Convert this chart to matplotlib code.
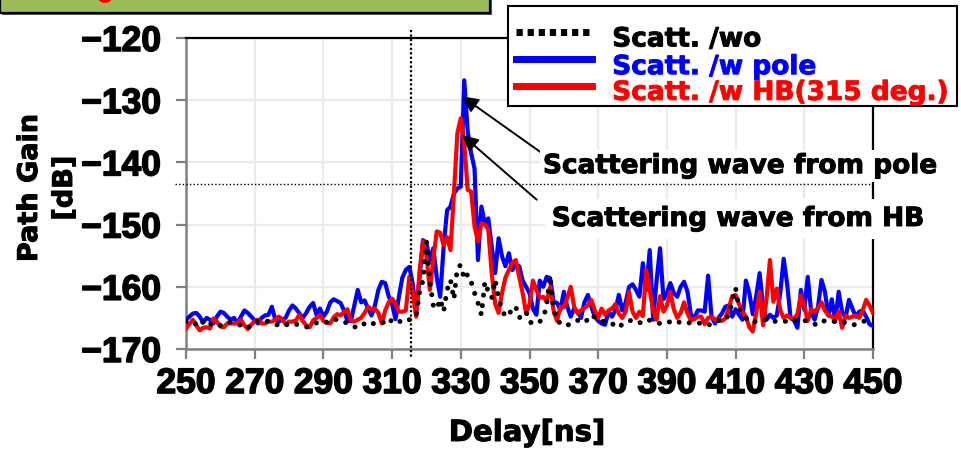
import matplotlib
matplotlib.use("Agg")
import matplotlib.pyplot as plt
import matplotlib.patheffects as pe
from matplotlib.patches import Rectangle, Ellipse
from matplotlib.lines import Line2D

# ---------------- data ----------------
delay_ns = list(range(250, 451))

gain_wo = [
    -165.6, -165.4, -165.8, -166.0, -166.4, -165.6, -165.3, -165.9, -166.3, -166.4,
    -166.2, -165.8, -165.6, -165.7, -165.9, -166.0, -166.2, -166.5, -166.7, -165.9,
    -165.6, -165.5, -165.7, -165.6, -165.5, -165.7, -165.9, -166.3, -166.4, -166.2,
    -165.9, -165.8, -166.0, -166.2, -166.4, -166.5, -166.2, -165.9, -165.8, -165.6,
    -165.5, -165.7, -165.8, -165.4, -165.2, -165.5, -165.6, -165.9, -166.2, -166.5,
    -166.3, -165.8, -166.0, -166.2, -165.8, -166.0, -166.1, -165.8, -165.6, -166.0,
    -165.2, -165.2, -165.6, -165.5, -165.7, -165.3, -165.0, -164.8, -160.8, -159.0,
    -152.7, -159.2, -163.0, -163.6, -162.0, -164.0, -160.5, -158.9, -162.0, -156.9,
    -156.5, -158.8, -158.0, -159.2, -161.0, -162.6, -164.5, -159.2, -160.8, -161.8,
    -158.9, -161.8, -163.7, -164.8, -164.6, -163.3, -163.2, -165.0, -164.5, -164.0,
    -165.7, -165.8, -166.0, -165.6, -165.0, -163.0, -158.3, -163.5, -165.5, -165.8,
    -165.7, -166.2, -165.9, -165.5, -165.4, -165.6, -165.8, -165.2, -164.5, -164.9,
    -165.3, -165.6, -165.5, -165.7, -165.9, -166.3, -166.6, -166.0, -165.6, -165.5,
    -165.3, -165.5, -165.8, -165.6, -165.2, -165.4, -165.6, -165.8, -165.9, -165.7,
    -165.5, -165.7, -166.0, -165.8, -165.6, -165.5, -165.7, -165.9, -166.0, -165.9,
    -165.8, -166.0, -166.2, -165.9, -165.6, -165.4, -165.6, -165.3, -164.5, -162.5,
    -160.2, -163.5, -164.3, -165.0, -165.6, -165.8, -165.5, -165.3, -165.2, -165.4,
    -165.3, -165.5, -165.6, -165.4, -165.5, -165.6, -165.8, -165.5, -165.3, -165.2,
    -165.4, -165.6, -165.8, -166.0, -166.2, -165.8, -165.4, -165.3, -165.5, -165.6,
    -165.5, -165.6, -165.8, -165.9, -166.2, -166.0, -165.7, -165.5, -165.6, -165.8,
    -165.9,
]

gain_pole = [
    -165.3, -164.8, -164.3, -164.2, -164.8, -165.7, -165.0, -165.3, -165.9, -164.8,
    -164.0, -164.2, -164.8, -165.3, -165.0, -165.9, -164.8, -163.8, -164.2, -164.8,
    -165.4, -165.9, -165.0, -164.6, -164.5, -163.2, -165.3, -165.6, -165.3, -165.0,
    -163.8, -163.0, -163.5, -164.3, -165.0, -164.2, -163.2, -162.6, -164.5, -163.5,
    -164.8, -164.0, -162.5, -162.0, -162.3, -162.6, -163.8, -165.5, -165.5, -163.0,
    -160.5, -162.5, -162.2, -163.5, -164.6, -163.0, -160.5, -159.2, -159.4, -161.5,
    -162.8, -165.2, -161.5, -158.5, -157.3, -156.8, -159.5, -164.3, -158.5, -152.5,
    -153.0, -155.7, -153.8, -158.5, -161.6, -153.6, -147.7, -147.1, -145.0, -144.2,
    -143.9, -126.8, -135.0, -138.5, -141.0, -155.7, -147.1, -149.8, -149.0, -153.5,
    -157.8, -152.2, -155.1, -156.7, -154.6, -157.3, -156.5, -156.7, -159.0, -160.0,
    -161.0, -163.5, -164.5, -159.0, -160.0, -158.4, -158.6, -162.4, -162.6, -163.7,
    -160.8, -163.2, -164.8, -163.5, -164.0, -165.0, -162.5, -161.3, -163.2, -164.8,
    -165.5, -165.9, -166.1, -164.0, -164.8, -163.8, -161.3, -163.8, -162.5, -160.0,
    -159.6, -160.5, -161.6, -156.2, -160.5, -154.1, -165.3, -159.0, -153.8, -162.0,
    -161.0, -159.4, -161.0, -161.6, -160.0, -159.2, -160.8, -164.5, -165.0, -163.8,
    -163.8, -164.0, -158.2, -164.8, -165.9, -165.0, -164.3, -163.2, -163.0, -164.8,
    -163.6, -164.5, -165.3, -159.0, -161.0, -164.4, -161.5, -157.8, -163.2, -165.3,
    -164.5, -165.0, -164.6, -161.0, -155.5, -159.5, -165.0, -165.4, -166.6, -160.5,
    -163.7, -158.4, -164.0, -165.3, -163.2, -158.9, -160.8, -164.6, -162.0, -165.6,
    -160.8, -164.0, -165.0, -162.1, -163.5, -164.8, -164.0, -163.8, -164.8, -166.0,
    -166.3,
]

gain_hb = [
    -166.7, -166.0, -165.3, -166.2, -167.0, -166.6, -166.5, -166.7, -165.1, -165.6,
    -166.4, -166.5, -165.9, -165.9, -165.9, -165.8, -165.3, -166.2, -166.8, -166.1,
    -165.5, -165.3, -165.9, -165.9, -165.6, -165.6, -165.3, -164.8, -165.2, -166.0,
    -165.6, -165.6, -165.4, -164.5, -165.5, -166.2, -166.5, -165.4, -165.0, -164.5,
    -165.5, -165.8, -165.9, -164.9, -164.4, -164.6, -164.0, -163.6, -165.4, -165.6,
    -165.3, -165.0, -164.2, -163.2, -163.6, -163.5, -164.2, -165.9, -163.8, -162.5,
    -161.9, -162.7, -164.0, -164.0, -163.8, -158.4, -161.0, -164.8, -157.5, -152.7,
    -155.0, -160.5, -155.5, -151.1, -151.3, -153.3, -152.0, -154.1, -145.0, -135.3,
    -132.9, -136.9, -144.4, -144.7, -150.3, -152.7, -149.8, -150.0, -150.8, -157.8,
    -162.7, -164.2, -161.0, -158.5, -157.3, -156.2, -155.7, -158.4, -161.0, -164.2,
    -162.8, -159.0, -160.5, -161.8, -161.6, -162.4, -160.0, -163.8, -165.5, -163.2,
    -163.3, -161.8, -160.0, -163.2, -164.3, -163.8, -163.4, -163.0, -162.1, -163.8,
    -165.0, -163.5, -164.5, -163.8, -163.5, -162.8, -164.3, -165.0, -164.0, -160.8,
    -164.0, -165.0, -164.0, -164.7, -157.3, -160.5, -163.8, -165.3, -161.5, -164.0,
    -163.0, -160.8, -163.6, -165.0, -164.2, -162.5, -164.3, -165.4, -165.2, -164.8,
    -164.8, -166.0, -165.0, -164.8, -165.3, -165.1, -165.5, -165.1, -163.5, -161.5,
    -161.3, -162.8, -164.0, -164.8, -166.5, -167.2, -164.2, -160.8, -166.2, -162.0,
    -155.7, -162.4, -160.3, -163.8, -165.0, -164.6, -165.0, -165.1, -164.4, -161.4,
    -163.0, -165.5, -163.6, -164.0, -163.4, -162.5, -163.8, -164.6, -164.8, -165.1,
    -164.0, -166.6, -164.6, -165.0, -164.8, -164.6, -165.0, -163.8, -162.1, -163.0,
    -164.2,
]

series_labels = ["Scatt. /wo", "Scatt. /w pole", "Scatt. /w HB(315 deg.)"]
series_colors = ["black", "#0000ff", "#ff0000"]
x_ticks = list(range(250, 451, 20))
y_ticks = [-170, -160, -150, -140, -130, -120]
x_label = "Delay[ns]"
y_label = "Path Gain\n[dB]"

ref_delay = 315.5      # vertical dotted marker
ref_gain = -143.4      # horizontal dotted marker

ann_texts = ["Scattering wave from pole", "Scattering wave from HB"]
ann_tips = [(330.4, -129.4), (330.4, -135.6)]
ann_tails = [(353.6, -138.5), (352.1, -146.0)]
ann_text_pos = [(411.3, -140.6), (410.7, -149.1)]

# ---------------- figure ----------------
plt.rcParams['font.family'] = ['Liberation Sans', 'DejaVu Sans']
plt.rcParams['font.weight'] = 'bold'
W, H = 961, 449
fig = plt.figure(figsize=(W / 100, H / 100), dpi=100)
ax = fig.add_axes([186 / W, 1 - 349 / H, 687 / W, 311 / H])

ax.set_xlim(250, 450)
ax.set_ylim(-170, -120)
ax.set_xticks(x_ticks)
ax.set_yticks(y_ticks)
ax.grid(True, color='#ebebeb', lw=1.6, zorder=0)
ax.set_axisbelow(True)

ax.plot(delay_ns, gain_pole, color=series_colors[1], lw=3.0, zorder=3)
ax.plot(delay_ns, gain_hb, color=series_colors[2], lw=3.0, zorder=4)
ax.plot(delay_ns, gain_wo, color=series_colors[0], lw=3.6, ls=(0, (0.01, 2.1)),
        dash_capstyle='round', zorder=5)

# reference dotted lines
ax.plot([ref_delay, ref_delay], [-118.7, -171.4], color='black', lw=1.6,
        ls=(0, (1, 1)), clip_on=False, zorder=6)
ax.plot([246.8, 450], [ref_gain, ref_gain], color='black', lw=1.0,
        ls=(0, (1, 1.6)), clip_on=False, zorder=6)

# spines & ticks
for s in ['left', 'bottom']:
    ax.spines[s].set_color('#808080')
    ax.spines[s].set_linewidth(1.8)
for s in ['top', 'right']:
    ax.spines[s].set_color('black')
    ax.spines[s].set_linewidth(1.6)
ax.tick_params(axis='both', direction='out', length=7, width=1.6,
               color='#808080', labelsize=25.5)
ax.tick_params(axis='x', pad=6)
ax.tick_params(axis='y', pad=11)
heavy = [pe.withStroke(linewidth=1.1, foreground='black')]
for lbl in ax.get_xticklabels() + ax.get_yticklabels():
    lbl.set_fontfamily('Liberation Sans')
    lbl.set_fontweight('bold')
    lbl.set_path_effects(heavy)

txt_font = dict(family='DejaVu Sans', weight='bold')
semi = [pe.withStroke(linewidth=0.7, foreground='black')]
ax.set_xlabel(x_label, fontsize=21, path_effects=semi, **txt_font)
ax.xaxis.set_label_coords((527 - 186) / 687, (349 - 419) / 311)
ax.set_ylabel(y_label, fontsize=19.5, linespacing=1.45, path_effects=semi, **txt_font)
ax.yaxis.set_label_coords((78 - 186) / 687, (349 - 188) / 311)

# annotations
for t, tip, tail, pos, pad in zip(ann_texts, ann_tips, ann_tails, ann_text_pos, [2, 5]):
    ax.annotate('', xy=tip, xytext=tail,
                arrowprops=dict(arrowstyle='-|>', color='black', lw=1.4,
                                mutation_scale=24, shrinkA=0, shrinkB=0),
                zorder=7, annotation_clip=False)
    ax.text(pos[0], pos[1], t, ha='center', va='center', fontsize=19,
            color='black', clip_on=False, zorder=8, path_effects=semi,
            bbox=dict(facecolor='white', edgecolor='none', pad=pad), **txt_font)

# legend
handles = [
    Line2D([], [], color=series_colors[0], lw=5, ls=(0, (0.9, 0.7)), dash_capstyle='butt'),
    Line2D([], [], color=series_colors[1], lw=5),
    Line2D([], [], color=series_colors[2], lw=5),
]
leg = ax.legend(handles, series_labels, loc='upper left',
                bbox_to_anchor=(508 / W, 1 - 6 / H), bbox_transform=fig.transFigure,
                prop=dict(family='DejaVu Sans', weight='bold', size=19),
                labelcolor=series_colors,
                handlelength=2.9, handletextpad=0.75, borderpad=0.3,
                labelspacing=0.12, borderaxespad=0, fancybox=False,
                framealpha=1, edgecolor='black')
leg.get_frame().set_linewidth(1.5)
leg.set_zorder(10)
# the reference legend rows sit low in the frame
for ln, dy in zip(leg.get_lines(), [-5, -3.5, -2.5]):
    ln.set_path_effects([pe.Stroke(offset=(0, dy))])
for tx, c, dy in zip(leg.get_texts(), series_colors, [-9, -8, -5.5]):
    tx.set_path_effects([pe.PathPatchEffect(offset=(0, dy), facecolor=c,
                                            edgecolor=c, linewidth=0.7)])

# green header box (cut off at top of the picture)
fig.patches.append(Rectangle((2 / W, 1 - 15 / H), 490 / W, 30 / H,
                             transform=fig.transFigure, facecolor='#555555',
                             edgecolor='none', zorder=0))
fig.patches.append(Rectangle((0, 1 - 13 / H), 490 / W, 30 / H,
                             transform=fig.transFigure, facecolor='#9bbb59',
                             edgecolor='black', lw=1.6, zorder=1))
fig.patches.append(Ellipse((105 / W, 1 + 5 / H), 16 / W, 16 / H,
                           transform=fig.transFigure, facecolor='#ff0000',
                           edgecolor='none', zorder=2))

fig.savefig('out.png', dpi=100)
